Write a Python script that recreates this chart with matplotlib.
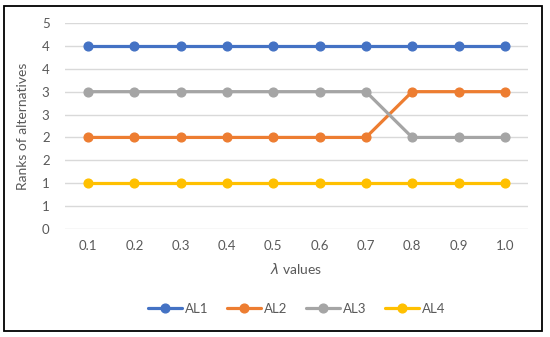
import matplotlib
matplotlib.use("Agg")
import matplotlib.pyplot as plt
from matplotlib.patches import Rectangle

# data
lambdas = ["0.1", "0.2", "0.3", "0.4", "0.5", "0.6", "0.7", "0.8", "0.9", "1.0"]
al1 = [4, 4, 4, 4, 4, 4, 4, 4, 4, 4]
al2 = [2, 2, 2, 2, 2, 2, 2, 3, 3, 3]
al3 = [3, 3, 3, 3, 3, 3, 3, 2, 2, 2]
al4 = [1, 1, 1, 1, 1, 1, 1, 1, 1, 1]
names = ["AL1", "AL2", "AL3", "AL4"]
colors = ["#4472C4", "#ED7D31", "#A5A5A5", "#FFC000"]

# excel axis: step 0.5, labels rounded to 0 decimals
yticks = [0, 0.5, 1, 1.5, 2, 2.5, 3, 3.5, 4, 4.5]
ytick_labels = ["0", "1", "1", "2", "2", "3", "3", "4", "4", "5"]

plt.rcParams['font.family'] = ['Lato', 'DejaVu Sans']
txt = "#595959"

fig = plt.figure(figsize=(5.5, 3.37), dpi=100)
ax = fig.add_axes([0.118, 0.3205, 0.842, 0.6113])

x = list(range(1, len(lambdas) + 1))
for s, name, c in zip([al1, al2, al3, al4], names, colors):
    ax.plot(x, s, color=c, lw=2.3, marker="o", ms=6.3, label=name, solid_capstyle="round")

ax.set_xlim(0.5, len(lambdas) + 0.5)
ax.set_ylim(0, 4.5)
ax.set_yticks(yticks)
ax.set_yticklabels(ytick_labels)
ax.set_xticks(x)
ax.set_xticklabels(lambdas)
ax.tick_params(length=0, labelsize=9.5, colors=txt, pad=8)
ax.tick_params(axis="y", pad=11)
for yv in yticks:
    ax.axhline(yv, color="#D9D9D9", lw=1, zorder=0)
for sp in ax.spines.values():
    sp.set_visible(False)

ax.set_ylabel("Ranks of alternatives", fontsize=10, color=txt, labelpad=9)
fig.text(0.5 * (0.118 + 0.96), 1 - 269 / 337, r"$\lambda$ values", fontsize=10,
         color=txt, ha="center", va="center")

fig.legend(loc="center", bbox_to_anchor=(0.5 * (0.118 + 0.96), 1 - 309 / 337), ncol=4,
           frameon=False, fontsize=9.5, labelcolor=txt, handlelength=2.6,
           handletextpad=0.2, columnspacing=1.4)

fig.patches.append(Rectangle((4 / 550, 1 - 331 / 337), 538 / 550, 325 / 337,
                             transform=fig.transFigure, fill=False,
                             edgecolor="black", lw=1.3))

fig.savefig("out.png", dpi=100)
